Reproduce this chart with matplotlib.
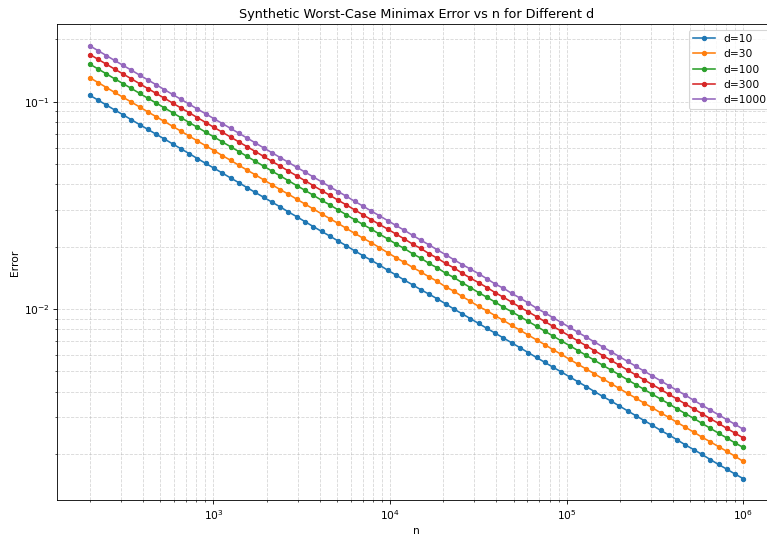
import matplotlib
import matplotlib.pyplot as plt

matplotlib.use("Agg")

n_values = [
    200, 223, 248, 276, 308, 343, 382, 425, 474, 528,
    588, 655, 729, 812, 905, 1008, 1123, 1250, 1393, 1551,
    1728, 1925, 2144, 2388, 2660, 2963, 3300, 3676, 4094, 4560,
    5079, 5658, 6301, 7020, 7820, 8709, 9699, 10804, 12033, 13404,
    14930, 16632, 18521, 20634, 22985, 25598, 28510, 31757, 35370, 39401,
    43874, 48876, 54426, 60634, 67544, 75222, 83778, 93320, 103938, 115784,
    128966, 143668, 159983, 178231, 198543, 221112, 246261, 274311, 305520, 340341,
    379080, 422295, 470249, 523889, 583594, 649933, 723853, 806303, 898041, 1000000,
]

err_d10 = [
    0.1073, 0.1017, 0.0963, 0.0913, 0.0865, 0.0819, 0.0776, 0.0736, 0.0697, 0.0661,
    0.0626, 0.0593, 0.0562, 0.0532, 0.0504, 0.0478, 0.0453, 0.0429, 0.0407, 0.0385,
    0.0365, 0.0346, 0.0328, 0.0311, 0.0294, 0.0279, 0.0264, 0.0250, 0.0237, 0.0225,
    0.0213, 0.0202, 0.0191, 0.0181, 0.0172, 0.0163, 0.0154, 0.0146, 0.0138, 0.0131,
    0.0124, 0.0118, 0.0112, 0.0106, 0.0100, 0.00949, 0.00899, 0.00852, 0.00807, 0.00765,
    0.00725, 0.00687, 0.00651, 0.00616, 0.00584, 0.00553, 0.00524, 0.00497, 0.00471, 0.00446,
    0.00423, 0.00400, 0.00379, 0.00360, 0.00341, 0.00323, 0.00306, 0.00290, 0.00275, 0.00260,
    0.00247, 0.00234, 0.00221, 0.00210, 0.00199, 0.00188, 0.00178, 0.00169, 0.00160, 0.00152,
]

err_d30 = [
    0.1304, 0.1236, 0.1171, 0.1109, 0.1051, 0.0996, 0.0944, 0.0894, 0.0847, 0.0803,
    0.0761, 0.0721, 0.0683, 0.0647, 0.0613, 0.0581, 0.0550, 0.0522, 0.0494, 0.0468,
    0.0444, 0.0420, 0.0398, 0.0377, 0.0358, 0.0339, 0.0321, 0.0304, 0.0288, 0.0273,
    0.0259, 0.0245, 0.0232, 0.0220, 0.0209, 0.0198, 0.0187, 0.0177, 0.0168, 0.0159,
    0.0151, 0.0143, 0.0136, 0.0128, 0.0122, 0.0115, 0.0109, 0.0103, 0.00981, 0.00929,
    0.00881, 0.00834, 0.00791, 0.00749, 0.00710, 0.00673, 0.00637, 0.00604, 0.00572, 0.00542,
    0.00514, 0.00487, 0.00461, 0.00437, 0.00414, 0.00392, 0.00372, 0.00352, 0.00334, 0.00316,
    0.00300, 0.00284, 0.00269, 0.00255, 0.00241, 0.00229, 0.00217, 0.00206, 0.00195, 0.00184,
]

err_d100 = [
    0.1517, 0.1437, 0.1362, 0.1290, 0.1223, 0.1159, 0.1098, 0.1040, 0.0986, 0.0934,
    0.0885, 0.0838, 0.0794, 0.0753, 0.0713, 0.0676, 0.0640, 0.0607, 0.0575, 0.0545,
    0.0516, 0.0489, 0.0463, 0.0439, 0.0416, 0.0394, 0.0374, 0.0354, 0.0335, 0.0318,
    0.0301, 0.0285, 0.0270, 0.0256, 0.0243, 0.0230, 0.0218, 0.0206, 0.0196, 0.0185,
    0.0176, 0.0166, 0.0158, 0.0149, 0.0142, 0.0134, 0.0127, 0.0120, 0.0114, 0.0108,
    0.0102, 0.00971, 0.00920, 0.00872, 0.00826, 0.00782, 0.00741, 0.00702, 0.00666, 0.00631,
    0.00598, 0.00566, 0.00536, 0.00508, 0.00482, 0.00456, 0.00432, 0.00410, 0.00388, 0.00368,
    0.00349, 0.00330, 0.00313, 0.00297, 0.00281, 0.00266, 0.00252, 0.00239, 0.00226, 0.00215,
]

err_d300 = [
    0.1689, 0.1600, 0.1516, 0.1437, 0.1361, 0.1290, 0.1222, 0.1158, 0.1097, 0.1040,
    0.0985, 0.0933, 0.0885, 0.0838, 0.0794, 0.0752, 0.0713, 0.0676, 0.0640, 0.0607,
    0.0575, 0.0545, 0.0516, 0.0489, 0.0463, 0.0439, 0.0416, 0.0394, 0.0373, 0.0354,
    0.0335, 0.0318, 0.0301, 0.0285, 0.0270, 0.0256, 0.0243, 0.0230, 0.0218, 0.0206,
    0.0196, 0.0185, 0.0176, 0.0166, 0.0158, 0.0149, 0.0141, 0.0134, 0.0127, 0.0120,
    0.0114, 0.0108, 0.0102, 0.00970, 0.00919, 0.00871, 0.00825, 0.00782, 0.00741, 0.00702,
    0.00665, 0.00630, 0.00597, 0.00566, 0.00536, 0.00508, 0.00481, 0.00456, 0.00432, 0.00410,
    0.00388, 0.00368, 0.00348, 0.00330, 0.00313, 0.00296, 0.00281, 0.00266, 0.00252, 0.00239,
]

err_d1000 = [
    0.1859, 0.1761, 0.1669, 0.1581, 0.1498, 0.1420, 0.1345, 0.1275, 0.1208, 0.1144,
    0.1084, 0.1027, 0.0974, 0.0922, 0.0874, 0.0828, 0.0785, 0.0744, 0.0705, 0.0668,
    0.0633, 0.0599, 0.0568, 0.0538, 0.0510, 0.0483, 0.0458, 0.0434, 0.0411, 0.0389,
    0.0369, 0.0350, 0.0331, 0.0314, 0.0297, 0.0282, 0.0267, 0.0253, 0.0240, 0.0227,
    0.0215, 0.0204, 0.0193, 0.0183, 0.0173, 0.0164, 0.0156, 0.0148, 0.0140, 0.0132,
    0.0126, 0.0119, 0.0113, 0.0107, 0.0101, 0.00959, 0.00909, 0.00861, 0.00816, 0.00773,
    0.00732, 0.00694, 0.00657, 0.00623, 0.00590, 0.00559, 0.00530, 0.00502, 0.00476, 0.00451,
    0.00427, 0.00405, 0.00384, 0.00363, 0.00344, 0.00326, 0.00309, 0.00293, 0.00278, 0.00263,
]

d_labels = ["d=10", "d=30", "d=100", "d=300", "d=1000"]
series = [err_d10, err_d30, err_d100, err_d300, err_d1000]

fig = plt.figure(figsize=(10, 7.002), dpi=76.7)
# the reference is cropped on the right, so the axes run slightly past the edge
ax = fig.add_axes([0.0747, 0.0683, 0.937, 0.8864])
for label, errs in zip(d_labels, series):
    ax.loglog(n_values, errs, marker="o", markersize=4, label=label)

ax.set_title("Synthetic Worst-Case Minimax Error vs n for Different d")
ax.set_xlabel("n")
ax.set_ylabel("Error")
ax.grid(True, which="both", linestyle="--", alpha=0.5)
ax.legend(loc="upper right")
fig.savefig("out.png", dpi=76.7)
